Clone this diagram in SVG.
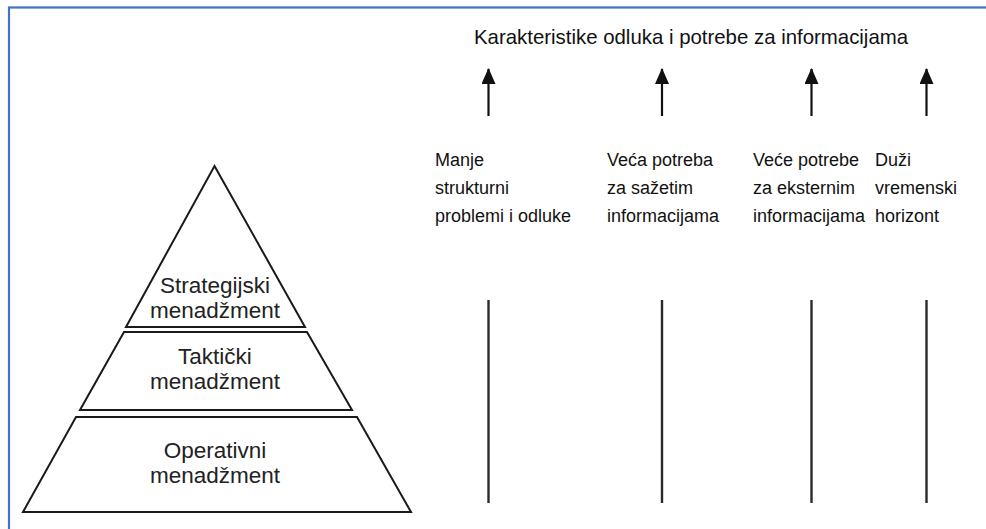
<svg xmlns="http://www.w3.org/2000/svg" width="986" height="529" viewBox="0 0 986 529">
<style>
.lvl{fill:#fff;stroke:#1a1a1a;stroke-width:2;stroke-linejoin:miter}
.pt{font-family:"Liberation Sans",Arial,sans-serif;font-size:22.5px;fill:#222;text-anchor:middle}
.ct{font-family:"Liberation Sans",Arial,sans-serif;font-size:18px;fill:#111}
.tt{font-family:"Liberation Sans",Arial,sans-serif;font-size:20.4px;fill:#111}
.shaft{stroke:#111;stroke-width:2.2}
.vl{stroke:#2a2a2a;stroke-width:2.4}
</style>
<defs>
<marker id="ah" viewBox="0 0 16 14" refX="15" refY="7" markerWidth="16" markerHeight="14" markerUnits="userSpaceOnUse" orient="auto">
<path d="M0,0 L16,7 L0,14 Z" fill="#111"/>
</marker>
</defs>
<rect width="986" height="529" fill="#fff"/>
<rect x="9" y="7.5" width="1000" height="600" fill="none" stroke="#4472c4" stroke-width="2.2"/>

<g id="strategijski">
<polygon class="lvl" points="214.5,166 305,327 126,327"/>
<text class="pt" x="215" y="293">Strategijski</text>
<text class="pt" x="215" y="318">menadžment</text>
</g>
<g id="takticki">
<polygon class="lvl" points="124,332 307,332 352,410 80,410"/>
<text class="pt" x="215" y="364">Taktički</text>
<text class="pt" x="215" y="389">menadžment</text>
</g>
<g id="operativni">
<polygon class="lvl" points="76,417 357,417 411,512 23,512"/>
<text class="pt" x="215" y="458">Operativni</text>
<text class="pt" x="215" y="483">menadžment</text>
</g>

<g id="naslov">
<text class="tt" x="474" y="44">Karakteristike odluka i potrebe za informacijama</text>
</g>

<g id="kol1">
<text class="ct" x="435" y="166">Manje</text>
<text class="ct" x="435" y="194">strukturni</text>
<text class="ct" x="435" y="222">problemi i odluke</text>
</g>
<g id="kol2">
<text class="ct" x="607" y="166">Veća potreba</text>
<text class="ct" x="607" y="194">za sažetim</text>
<text class="ct" x="607" y="222">informacijama</text>
</g>
<g id="kol3">
<text class="ct" x="753" y="166">Veće potrebe</text>
<text class="ct" x="753" y="194">za eksternim</text>
<text class="ct" x="753" y="222">informacijama</text>
</g>
<g id="kol4">
<text class="ct" x="875" y="166">Duži</text>
<text class="ct" x="875" y="194">vremenski</text>
<text class="ct" x="875" y="222">horizont</text>
</g>

<g id="connectors">
<line class="shaft" x1="488.5" y1="116" x2="488.5" y2="69" marker-end="url(#ah)"/>
<line class="shaft" x1="662" y1="116" x2="662" y2="69" marker-end="url(#ah)"/>
<line class="shaft" x1="811.5" y1="116" x2="811.5" y2="69" marker-end="url(#ah)"/>
<line class="shaft" x1="926.5" y1="116" x2="926.5" y2="69" marker-end="url(#ah)"/>
<line class="vl" x1="488.5" y1="300" x2="488.5" y2="503"/>
<line class="vl" x1="662" y1="300" x2="662" y2="503"/>
<line class="vl" x1="811.5" y1="300" x2="811.5" y2="503"/>
<line class="vl" x1="926.5" y1="300" x2="926.5" y2="503"/>
</g>
</svg>
